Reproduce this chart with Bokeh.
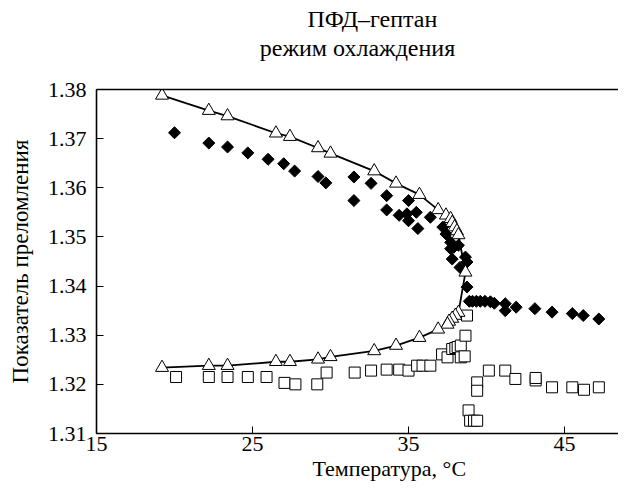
import math
from bokeh.plotting import figure
from bokeh.models import LinearAxis, FixedTicker, Range1d, Title
from bokeh.embed import file_html
from bokeh.resources import INLINE

# ---- data ----
x_ticks = [15, 25, 35, 45]
y_ticks = [1.31, 1.32, 1.33, 1.34, 1.35, 1.36, 1.37, 1.38]

title_line1 = "ПФД–гептан"
title_line2 = "режим охлаждения"
x_label = "Температура, °С"
y_label = "Показатель преломления"

# open triangles joined by a line (upper branch left->right, lower branch right->left)
tri_x = [19.2, 22.2, 23.4, 26.5, 27.4, 29.2, 30.0, 32.8, 34.2, 35.7, 36.9, 37.4,
         37.7, 37.8, 37.95, 38.1, 38.2, 38.65,
         38.2, 38.0, 37.8, 37.6, 37.5, 36.9, 35.7, 34.2, 32.8, 30.0, 29.2, 27.4,
         26.5, 23.4, 22.2, 19.2]
tri_y = [1.3788, 1.3757, 1.3746, 1.3711, 1.3704, 1.3681, 1.3670, 1.3634, 1.3609,
         1.3586, 1.3555, 1.3544, 1.3537, 1.3529, 1.3520, 1.3512, 1.3504, 1.3428,
         1.3346, 1.3340, 1.3334, 1.3328, 1.3322, 1.3312, 1.3295, 1.3279, 1.3268,
         1.3256, 1.3251, 1.3246, 1.3246, 1.3238, 1.3238, 1.3234]

# filled diamonds
dia_x = [20.0, 22.2, 23.4, 24.7, 26.0, 27.0, 27.7, 29.2, 29.7, 31.5, 31.5, 32.6,
         33.6, 35.0, 33.6, 34.4, 34.9, 35.5, 35.0, 35.6, 36.4, 37.2, 37.4, 37.7,
         37.9, 37.7, 38.2, 37.8, 38.65, 38.75, 38.3, 38.75, 38.9, 39.1, 39.35,
         39.6, 39.9, 40.25, 40.5, 41.2, 41.2, 41.9, 43.1, 44.2, 45.5, 46.2, 47.2]
dia_y = [1.3712, 1.3691, 1.3683, 1.3671, 1.3658, 1.3649, 1.3634, 1.3623, 1.3610,
         1.3622, 1.3574, 1.3609, 1.3584, 1.3574, 1.3555, 1.3544, 1.3547, 1.3550,
         1.3533, 1.3517, 1.3540, 1.3520, 1.3506, 1.3489, 1.3479, 1.3476, 1.3483,
         1.3455, 1.3459, 1.3449, 1.3438, 1.3398, 1.3369, 1.3369, 1.3369, 1.3369,
         1.3369, 1.3368, 1.3365, 1.3364, 1.3350, 1.3357, 1.3354, 1.3347, 1.3344,
         1.3340, 1.3333]

# open squares
sq_x = [20.1, 22.2, 23.4, 24.7, 25.9, 27.05, 27.75, 29.15, 29.75, 31.55, 32.6,
        33.6, 34.4, 35.0, 35.55, 35.9, 36.4, 37.15, 37.5, 37.8, 38.0, 38.15,
        38.35, 38.35, 38.6, 38.65, 38.75, 39.4, 39.4, 40.15, 41.2, 41.85, 43.15,
        43.15, 44.2, 45.5, 46.25, 47.2, 38.85, 38.95, 39.2, 39.4]
sq_y = [1.3215, 1.3215, 1.3215, 1.3215, 1.3215, 1.3203, 1.3200, 1.3200, 1.3224,
        1.3224, 1.3228, 1.3230, 1.3230, 1.3228, 1.3238, 1.3238, 1.3238, 1.3261,
        1.3255, 1.3272, 1.3274, 1.3276, 1.3279, 1.3255, 1.3257, 1.3299, 1.3340,
        1.3204, 1.3187, 1.3228, 1.3228, 1.3211, 1.3208, 1.3213, 1.3194, 1.3194,
        1.3189, 1.3194, 1.3147, 1.3126, 1.3126, 1.3126]

FONT = "Liberation Serif, Times New Roman, serif"

p = figure(width=618, height=485, output_backend="svg", toolbar_location=None,
           x_range=Range1d(15, 48.46), y_range=Range1d(1.31, 1.38),
           min_border_left=96, min_border_right=0, min_border_top=89,
           min_border_bottom=52)
p.outline_line_color = None
p.xgrid.visible = False
p.ygrid.visible = False
p.background_fill_color = "white"
p.border_fill_color = "white"

p.xaxis.ticker = FixedTicker(ticks=x_ticks)
p.yaxis.ticker = FixedTicker(ticks=y_ticks)
for ax in p.xaxis + p.yaxis:
    ax.major_tick_in = 7
    ax.major_tick_out = 0
    ax.minor_tick_line_color = None
    ax.axis_line_width = 1.6
    ax.axis_line_color = "black"
    ax.major_tick_line_color = "black"
    ax.major_tick_line_width = 1
    ax.major_label_text_font = FONT
    ax.major_label_text_font_size = "22px"
    ax.major_label_text_color = "black"
p.xaxis.major_label_standoff = 3
p.yaxis.major_label_standoff = 10

p.yaxis.axis_label = y_label
p.yaxis.axis_label_text_font = FONT
p.yaxis.axis_label_text_font_size = "23px"
p.yaxis.axis_label_text_font_style = "normal"
p.yaxis.axis_label_text_color = "black"
p.yaxis.axis_label_standoff = 12

# top frame line; its axis label carries the second title line
top = LinearAxis(ticker=FixedTicker(ticks=[]), axis_line_width=1.6,
                 axis_line_color="black", major_label_text_font_size="0px",
                 major_tick_line_color=None, minor_tick_line_color=None,
                 major_label_standoff=0, major_tick_in=0, major_tick_out=0,
                 axis_label=title_line2, axis_label_text_font=FONT,
                 axis_label_text_font_size="24px",
                 axis_label_text_font_style="normal",
                 axis_label_text_color="black", axis_label_standoff=29)
p.add_layout(top, "above")

p.add_layout(Title(text=title_line1, align="left", offset=211, text_font=FONT,
                   text_font_size="24px", text_font_style="normal",
                   text_color="black", standoff=0), "above")
p.add_layout(Title(text=x_label, align="left", offset=216, text_font=FONT,
                   text_font_size="22px", text_font_style="normal",
                   text_color="black", standoff=0), "below")

p.line(tri_x, tri_y, line_color="black", line_width=1.8)
p.scatter(sq_x, sq_y, marker="square", size=11, fill_color="white",
          line_color="black", line_width=1)
p.scatter(dia_x, dia_y, marker="square", size=8.5, angle=math.pi / 4,
          fill_color="black", line_color="black", line_width=1)
p.scatter(tri_x, tri_y, marker="triangle", size=13, fill_color="white",
          line_color="black", line_width=1)

open("out.html", "w").write(file_html(p, INLINE))
